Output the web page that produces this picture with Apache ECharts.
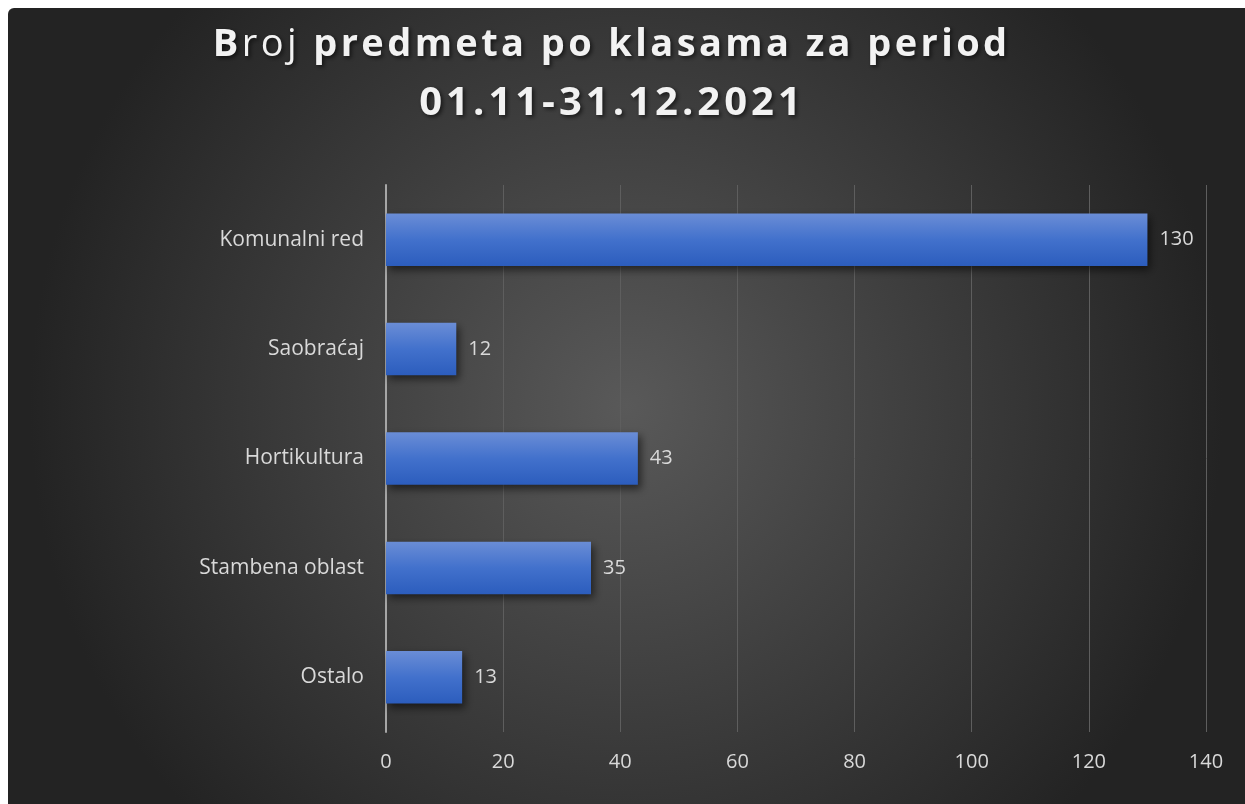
<!DOCTYPE html>
<html>
<head>
<meta charset="utf-8">
<script src="https://cdn.jsdelivr.net/npm/echarts@6/dist/echarts.min.js"></script>
<style>
  html, body { margin: 0; padding: 0; background: #fff; }
  #chart { position: absolute; left: 8px; top: 8px; width: 1237px; height: 796px; border-top-left-radius: 6px; overflow: hidden; }
</style>
</head>
<body>
<div id="chart"></div>
<script>
const categories = ['Komunalni red', 'Saobraćaj', 'Hortikultura', 'Stambena oblast', 'Ostalo'];
const values = [130, 12, 43, 35, 13];
const titleLines = ['Broj predmeta po klasama za period', '01.11-31.12.2021'];

// spread the title letters a bit, like the original
function spaced(line, style) {
  return line.split('').map(ch => '{' + style + '|' + ch + '}').join('');
}

const titleFont = {
  fontFamily: 'Open Sans',
  fontWeight: 'bold',
  fontSize: 38,
  lineHeight: 56,
  padding: [0, 1.7],
  color: '#f2f2f2',
  textShadowColor: 'rgba(0,0,0,0.6)',
  textShadowBlur: 4,
  textShadowOffsetX: 2,
  textShadowOffsetY: 2
};

// in the original only the "roj" of "Broj" is not bold
const line1 = titleLines[0];
const titleText = spaced(line1.slice(0, 1), 'a') + spaced(line1.slice(1, 4), 'n') +
  spaced(line1.slice(4), 'a') + '\n' + spaced(titleLines[1], 'b');

const chart = echarts.init(document.getElementById('chart'));

const option = {
  backgroundColor: {
    type: 'radial', x: 0.5, y: 0.5, r: 0.75,
    colorStops: [
      { offset: 0, color: '#595959' },
      { offset: 1, color: '#232323' }
    ]
  },
  animation: false,
  title: {
    text: titleText,
    left: 597,
    top: 4,
    textAlign: 'center',
    textStyle: {
      rich: {
        a: titleFont,
        n: Object.assign({}, titleFont, { fontWeight: 'normal' }),
        b: Object.assign({}, titleFont, { fontSize: 40, lineHeight: 62, padding: [0, 2.0] })
      }
    }
  },
  grid: { left: 378, right: 39, top: 177, bottom: 72 },
  xAxis: {
    type: 'value',
    min: 0,
    max: 140,
    interval: 20,
    axisLine: { show: false },
    axisTick: { show: false },
    splitLine: { lineStyle: { color: '#5e5e5e', width: 1 } },
    axisLabel: { color: '#d9d9d9', fontSize: 20, fontFamily: 'Open Sans', margin: 20 }
  },
  yAxis: {
    type: 'category',
    inverse: true,
    data: categories,
    axisLine: { show: true, lineStyle: { color: '#a6a6a6', width: 2 } },
    axisTick: { show: false },
    axisLabel: { color: '#d9d9d9', fontSize: 21, fontFamily: 'Open Sans', margin: 22 }
  },
  series: [{
    type: 'bar',
    data: values,
    barCategoryGap: '52%',
    itemStyle: {
      color: {
        type: 'linear', x: 0, y: 0, x2: 0, y2: 1,
        colorStops: [
          { offset: 0, color: '#6a8dd6' },
          { offset: 0.5, color: '#4271cc' },
          { offset: 1, color: '#2c5dbd' }
        ]
      },
      shadowColor: 'rgba(0,0,0,0.55)',
      shadowBlur: 8,
      shadowOffsetX: 3,
      shadowOffsetY: 4
    },
    label: {
      show: true,
      position: 'right',
      distance: 12,
      color: '#d9d9d9',
      fontSize: 20,
      fontFamily: 'Open Sans'
    }
  }]
};

chart.setOption(option);
</script>
</body>
</html>
